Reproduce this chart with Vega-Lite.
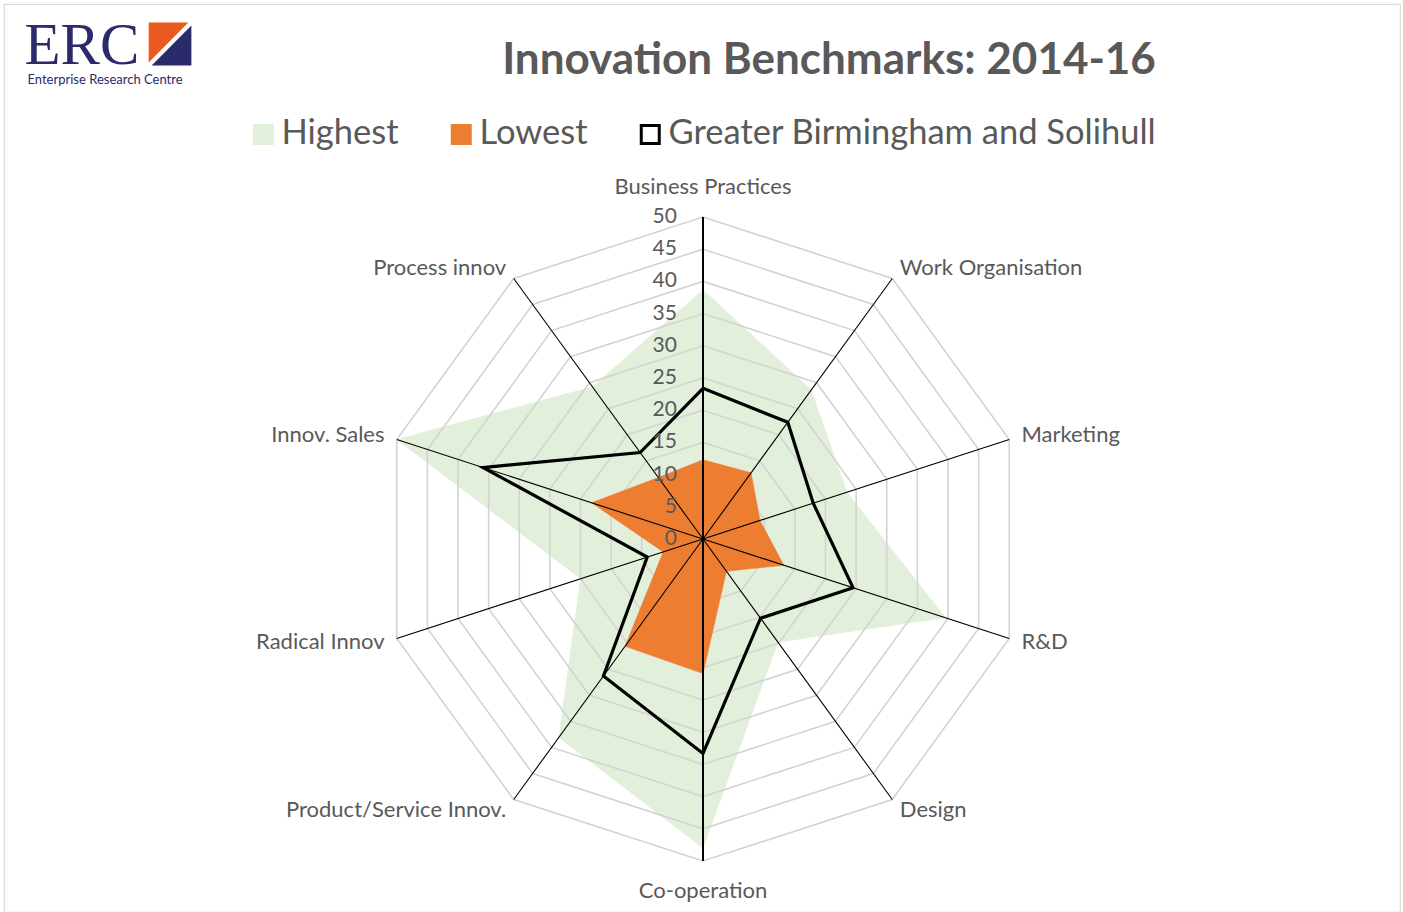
{
  "$schema": "https://vega.github.io/schema/vega-lite/v6.json",
  "width": 1396,
  "height": 908,
  "autosize": "none",
  "padding": {"left": 4, "top": 4, "right": 3, "bottom": 0},
  "background": "#FFFFFF",
  "config": {
    "view": {"stroke": "#D9D9D9", "strokeWidth": 1.2},
    "axis": {"grid": false, "domain": false, "ticks": false, "labels": false},
    "font": "Lato"
  },
  "resolve": {"axis": {"x": "independent", "y": "independent"}},
  "title": {
    "text": "Innovation Benchmarks: 2014-16",
    "font": "Lato",
    "fontSize": 44,
    "fontWeight": "bold",
    "color": "#595959",
    "anchor": "middle",
    "frame": "group",
    "orient": "top",
    "offset": 0,
    "baseline": "alphabetic",
    "dx": 127,
    "dy": 114
  },
  "datasets": {
    "series": [
      {"series": "Highest", "axis": "Business Practices", "value": 38.7},
      {"series": "Highest", "axis": "Work Organisation", "value": 28.6},
      {"series": "Highest", "axis": "Marketing", "value": 23.5},
      {"series": "Highest", "axis": "R&D", "value": 39.6},
      {"series": "Highest", "axis": "Design", "value": 19.8},
      {"series": "Highest", "axis": "Co-operation", "value": 48.0},
      {"series": "Highest", "axis": "Product/Service Innov.", "value": 38.1},
      {"series": "Highest", "axis": "Radical Innov", "value": 20.0},
      {"series": "Highest", "axis": "Innov. Sales", "value": 50.0},
      {"series": "Highest", "axis": "Process innov", "value": 29.2},
      {"series": "Lowest", "axis": "Business Practices", "value": 12.3},
      {"series": "Lowest", "axis": "Work Organisation", "value": 12.7},
      {"series": "Lowest", "axis": "Marketing", "value": 9.3},
      {"series": "Lowest", "axis": "R&D", "value": 13.2},
      {"series": "Lowest", "axis": "Design", "value": 6.2},
      {"series": "Lowest", "axis": "Co-operation", "value": 20.9},
      {"series": "Lowest", "axis": "Product/Service Innov.", "value": 20.6},
      {"series": "Lowest", "axis": "Radical Innov", "value": 6.5},
      {"series": "Lowest", "axis": "Innov. Sales", "value": 18.2},
      {"series": "Lowest", "axis": "Process innov", "value": 11.8},
      {"series": "Greater Birmingham and Solihull", "axis": "Business Practices", "value": 23.4},
      {"series": "Greater Birmingham and Solihull", "axis": "Work Organisation", "value": 22.4},
      {"series": "Greater Birmingham and Solihull", "axis": "Marketing", "value": 18.0},
      {"series": "Greater Birmingham and Solihull", "axis": "R&D", "value": 24.5},
      {"series": "Greater Birmingham and Solihull", "axis": "Design", "value": 15.2},
      {"series": "Greater Birmingham and Solihull", "axis": "Co-operation", "value": 33.3},
      {"series": "Greater Birmingham and Solihull", "axis": "Product/Service Innov.", "value": 26.3},
      {"series": "Greater Birmingham and Solihull", "axis": "Radical Innov", "value": 9.1},
      {"series": "Greater Birmingham and Solihull", "axis": "Innov. Sales", "value": 35.9},
      {"series": "Greater Birmingham and Solihull", "axis": "Process innov", "value": 16.6}
    ],
    "axes": [
      {"axis": "Business Practices"},
      {"axis": "Work Organisation"},
      {"axis": "Marketing"},
      {"axis": "R&D"},
      {"axis": "Design"},
      {"axis": "Co-operation"},
      {"axis": "Product/Service Innov."},
      {"axis": "Radical Innov"},
      {"axis": "Innov. Sales"},
      {"axis": "Process innov"}
    ],
    "grid": [
      {"level": 5, "i": [0, 1, 2, 3, 4, 5, 6, 7, 8, 9]},
      {"level": 10, "i": [0, 1, 2, 3, 4, 5, 6, 7, 8, 9]},
      {"level": 15, "i": [0, 1, 2, 3, 4, 5, 6, 7, 8, 9]},
      {"level": 20, "i": [0, 1, 2, 3, 4, 5, 6, 7, 8, 9]},
      {"level": 25, "i": [0, 1, 2, 3, 4, 5, 6, 7, 8, 9]},
      {"level": 30, "i": [0, 1, 2, 3, 4, 5, 6, 7, 8, 9]},
      {"level": 35, "i": [0, 1, 2, 3, 4, 5, 6, 7, 8, 9]},
      {"level": 40, "i": [0, 1, 2, 3, 4, 5, 6, 7, 8, 9]},
      {"level": 45, "i": [0, 1, 2, 3, 4, 5, 6, 7, 8, 9]},
      {"level": 50, "i": [0, 1, 2, 3, 4, 5, 6, 7, 8, 9]}
    ],
    "ticks": [
      {"v": 0}, {"v": 5}, {"v": 10}, {"v": 15}, {"v": 20}, {"v": 25},
      {"v": 30}, {"v": 35}, {"v": 40}, {"v": 45}, {"v": 50}
    ]
  },
  "layer": [
    {
      "data": {"name": "series"},
      "transform": [
        {"filter": "datum.series === 'Highest'"},
        {"calculate": "indexof(['Business Practices','Work Organisation','Marketing','R&D','Design','Co-operation','Product/Service Innov.','Radical Innov','Innov. Sales','Process innov'], datum.axis)", "as": "i"},
        {"calculate": "datum.value * sin(datum.i * PI / 5)", "as": "x"},
        {"calculate": "datum.value * cos(datum.i * PI / 5)", "as": "y"}
      ],
      "mark": {"type": "line", "interpolate": "linear-closed", "fill": "#E2EFDA", "stroke": "#E2EFDA", "strokeWidth": 0.5},
      "encoding": {
        "x": {"field": "x", "type": "quantitative", "scale": {"domain": [-108.54, 108.23], "nice": false, "zero": false},
          "axis": {"orient": "top", "title": "ERC", "titleX": 20, "titleY": 59, "titleAlign": "left", "titleAnchor": "start", "titleBaseline": "alphabetic", "titleFont": "Liberation Serif", "titleFontSize": 59, "titleFontWeight": "normal", "titleColor": "#2B2A6B", "titleAngle": 0}},
        "y": {"field": "y", "type": "quantitative", "scale": {"domain": [-57.92, 83.07], "nice": false, "zero": false},
          "axis": {"orient": "left", "title": "Enterprise Research Centre", "titleX": 23, "titleY": 75, "titleAlign": "left", "titleAnchor": "start", "titleBaseline": "middle", "titleFont": "Lato", "titleFontSize": 13, "titleFontWeight": "normal", "titleColor": "#2B2A6B", "titleAngle": 0}},
        "order": {"field": "i", "type": "quantitative"}
      }
    },
    {
      "data": {"name": "grid"},
      "transform": [
        {"flatten": ["i"]},
        {"calculate": "datum.level * sin(datum.i * PI / 5)", "as": "x"},
        {"calculate": "datum.level * cos(datum.i * PI / 5)", "as": "y"}
      ],
      "mark": {"type": "line", "interpolate": "linear-closed", "stroke": "#D3D3D3", "strokeWidth": 1.6},
      "encoding": {
        "x": {"field": "x", "type": "quantitative", "scale": {"domain": [-108.54, 108.23], "nice": false, "zero": false},
          "axis": {"orient": "bottom", "title": "◤", "titleX": 144, "titleY": -857, "titleAlign": "left", "titleAnchor": "start", "titleBaseline": "alphabetic", "titleFont": "DejaVu Sans", "titleFontSize": 52, "titleFontWeight": "normal", "titleColor": "#EA5A1E", "titleAngle": 0}},
        "y": {"field": "y", "type": "quantitative", "scale": {"domain": [-57.92, 83.07], "nice": false, "zero": false},
          "axis": {"orient": "right", "title": "◢", "titleX": -1249, "titleY": 54, "titleAlign": "left", "titleAnchor": "start", "titleBaseline": "alphabetic", "titleFont": "DejaVu Sans", "titleFontSize": 52, "titleFontWeight": "normal", "titleColor": "#2B2A6B", "titleAngle": 0}},
        "detail": {"field": "level", "type": "nominal"},
        "order": {"field": "i", "type": "quantitative"}
      }
    },
    {
      "data": {"name": "series"},
      "transform": [
        {"filter": "datum.series === 'Lowest'"},
        {"calculate": "indexof(['Business Practices','Work Organisation','Marketing','R&D','Design','Co-operation','Product/Service Innov.','Radical Innov','Innov. Sales','Process innov'], datum.axis)", "as": "i"},
        {"calculate": "datum.value * sin(datum.i * PI / 5)", "as": "x"},
        {"calculate": "datum.value * cos(datum.i * PI / 5)", "as": "y"}
      ],
      "mark": {"type": "line", "interpolate": "linear-closed", "fill": "#ED7D31", "stroke": "#ED7D31", "strokeWidth": 0.5},
      "encoding": {
        "x": {"field": "x", "type": "quantitative", "scale": {"domain": [-108.54, 108.23], "nice": false, "zero": false}, "axis": null},
        "y": {"field": "y", "type": "quantitative", "scale": {"domain": [-57.92, 83.07], "nice": false, "zero": false}, "axis": null},
        "order": {"field": "i", "type": "quantitative"}
      }
    },
    {
      "data": {"name": "axes"},
      "transform": [
        {"calculate": "indexof(['Business Practices','Work Organisation','Marketing','R&D','Design','Co-operation','Product/Service Innov.','Radical Innov','Innov. Sales','Process innov'], datum.axis)", "as": "i"},
        {"calculate": "0", "as": "c"},
        {"calculate": "50 * sin(datum.i * PI / 5)", "as": "ex"},
        {"calculate": "50 * cos(datum.i * PI / 5)", "as": "ey"},
        {"calculate": "abs(sin(datum.i * PI / 5)) < 0.01 ? 2 : 1.1", "as": "sw"}
      ],
      "mark": {"type": "rule", "color": "#000000"},
      "encoding": {
        "x": {"field": "c", "type": "quantitative", "scale": {"domain": [-108.54, 108.23], "nice": false, "zero": false}, "axis": null},
        "y": {"field": "c", "type": "quantitative", "scale": {"domain": [-57.92, 83.07], "nice": false, "zero": false}, "axis": null},
        "x2": {"field": "ex"},
        "y2": {"field": "ey"},
        "strokeWidth": {"field": "sw", "type": "quantitative", "scale": null}
      }
    },
    {
      "data": {"name": "series"},
      "transform": [
        {"filter": "datum.series === 'Greater Birmingham and Solihull'"},
        {"calculate": "indexof(['Business Practices','Work Organisation','Marketing','R&D','Design','Co-operation','Product/Service Innov.','Radical Innov','Innov. Sales','Process innov'], datum.axis)", "as": "i"},
        {"calculate": "datum.value * sin(datum.i * PI / 5)", "as": "x"},
        {"calculate": "datum.value * cos(datum.i * PI / 5)", "as": "y"}
      ],
      "mark": {"type": "line", "interpolate": "linear-closed", "stroke": "#000000", "strokeWidth": 3.2, "strokeJoin": "miter"},
      "encoding": {
        "x": {"field": "x", "type": "quantitative", "scale": {"domain": [-108.54, 108.23], "nice": false, "zero": false}, "axis": null},
        "y": {"field": "y", "type": "quantitative", "scale": {"domain": [-57.92, 83.07], "nice": false, "zero": false}, "axis": null},
        "order": {"field": "i", "type": "quantitative"}
      }
    },
    {
      "data": {"name": "ticks"},
      "transform": [{"calculate": "0", "as": "c"}],
      "mark": {"type": "text", "align": "right", "baseline": "middle", "dx": -26, "fontSize": 21, "color": "#595959", "font": "Lato"},
      "encoding": {
        "x": {"field": "c", "type": "quantitative", "scale": {"domain": [-108.54, 108.23], "nice": false, "zero": false}, "axis": null},
        "y": {"field": "v", "type": "quantitative", "scale": {"domain": [-57.92, 83.07], "nice": false, "zero": false}, "axis": null},
        "text": {"field": "v", "type": "quantitative", "format": "d"}
      }
    },
    {
      "data": {"name": "axes"},
      "transform": [
        {"calculate": "indexof(['Business Practices','Work Organisation','Marketing','R&D','Design','Co-operation','Product/Service Innov.','Radical Innov','Innov. Sales','Process innov'], datum.axis)", "as": "i"},
        {"calculate": "sin(datum.i * PI / 5)", "as": "s"},
        {"calculate": "abs(datum.s) < 0.1 ? 54.6 : 52", "as": "lr"},
        {"calculate": "datum.lr * datum.s", "as": "lx"},
        {"calculate": "datum.lr * cos(datum.i * PI / 5)", "as": "ly"},
        {"filter": "datum.s > 0.1"}
      ],
      "mark": {"type": "text", "align": "left", "baseline": "middle", "fontSize": 22, "color": "#595959", "font": "Lato"},
      "encoding": {
        "x": {"field": "lx", "type": "quantitative", "scale": {"domain": [-108.54, 108.23], "nice": false, "zero": false}, "axis": null},
        "y": {"field": "ly", "type": "quantitative", "scale": {"domain": [-57.92, 83.07], "nice": false, "zero": false}, "axis": null},
        "text": {"field": "axis", "type": "nominal"}
      }
    },
    {
      "data": {"name": "axes"},
      "transform": [
        {"calculate": "indexof(['Business Practices','Work Organisation','Marketing','R&D','Design','Co-operation','Product/Service Innov.','Radical Innov','Innov. Sales','Process innov'], datum.axis)", "as": "i"},
        {"calculate": "sin(datum.i * PI / 5)", "as": "s"},
        {"calculate": "abs(datum.s) < 0.1 ? 54.6 : 52", "as": "lr"},
        {"calculate": "datum.lr * datum.s", "as": "lx"},
        {"calculate": "datum.lr * cos(datum.i * PI / 5)", "as": "ly"},
        {"filter": "datum.s < -0.1"}
      ],
      "mark": {"type": "text", "align": "right", "baseline": "middle", "fontSize": 22, "color": "#595959", "font": "Lato"},
      "encoding": {
        "x": {"field": "lx", "type": "quantitative", "scale": {"domain": [-108.54, 108.23], "nice": false, "zero": false}, "axis": null},
        "y": {"field": "ly", "type": "quantitative", "scale": {"domain": [-57.92, 83.07], "nice": false, "zero": false}, "axis": null},
        "text": {"field": "axis", "type": "nominal"}
      }
    },
    {
      "data": {"name": "axes"},
      "transform": [
        {"calculate": "indexof(['Business Practices','Work Organisation','Marketing','R&D','Design','Co-operation','Product/Service Innov.','Radical Innov','Innov. Sales','Process innov'], datum.axis)", "as": "i"},
        {"calculate": "sin(datum.i * PI / 5)", "as": "s"},
        {"calculate": "abs(datum.s) < 0.1 ? 54.6 : 52", "as": "lr"},
        {"calculate": "datum.lr * datum.s", "as": "lx"},
        {"calculate": "datum.lr * cos(datum.i * PI / 5)", "as": "ly"},
        {"filter": "abs(datum.s) <= 0.1"}
      ],
      "mark": {"type": "text", "align": "center", "baseline": "middle", "fontSize": 22, "color": "#595959", "font": "Lato"},
      "encoding": {
        "x": {"field": "lx", "type": "quantitative", "scale": {"domain": [-108.54, 108.23], "nice": false, "zero": false}, "axis": null},
        "y": {"field": "ly", "type": "quantitative", "scale": {"domain": [-57.92, 83.07], "nice": false, "zero": false}, "axis": null},
        "text": {"field": "axis", "type": "nominal"}
      }
    },
    {
      "data": {"name": "series"},
      "transform": [{"calculate": "0", "as": "c"}],
      "mark": {"type": "square", "opacity": 0, "size": 1},
      "encoding": {
        "x": {"field": "c", "type": "quantitative", "scale": {"domain": [-108.54, 108.23], "nice": false, "zero": false}, "axis": null},
        "y": {"field": "c", "type": "quantitative", "scale": {"domain": [-57.92, 83.07], "nice": false, "zero": false}, "axis": null},
        "fill": {"field": "series", "type": "nominal",
          "scale": {"domain": ["Highest", "Lowest", "Greater Birmingham and Solihull"], "range": ["#E2EFDA", "#ED7D31", "#FFFFFF"]},
          "legend": {"orient": "none", "legendX": 242, "legendY": 113, "direction": "horizontal", "title": null, "symbolType": "square", "symbolSize": 324, "symbolStrokeWidth": 3, "symbolOpacity": 1, "labelFont": "Lato", "labelFontSize": 34.5, "labelColor": "#595959", "labelOffset": 1, "columnPadding": 45, "labelLimit": 1000}},
        "stroke": {"field": "series", "type": "nominal",
          "scale": {"domain": ["Highest", "Lowest", "Greater Birmingham and Solihull"], "range": ["#E2EFDA", "#ED7D31", "#000000"]},
          "legend": {"orient": "none", "legendX": 242, "legendY": 113, "direction": "horizontal", "title": null, "symbolType": "square", "symbolSize": 324, "symbolStrokeWidth": 3, "symbolOpacity": 1, "labelFont": "Lato", "labelFontSize": 34.5, "labelColor": "#595959", "labelOffset": 1, "columnPadding": 45, "labelLimit": 1000}}
      }
    }
  ]
}
